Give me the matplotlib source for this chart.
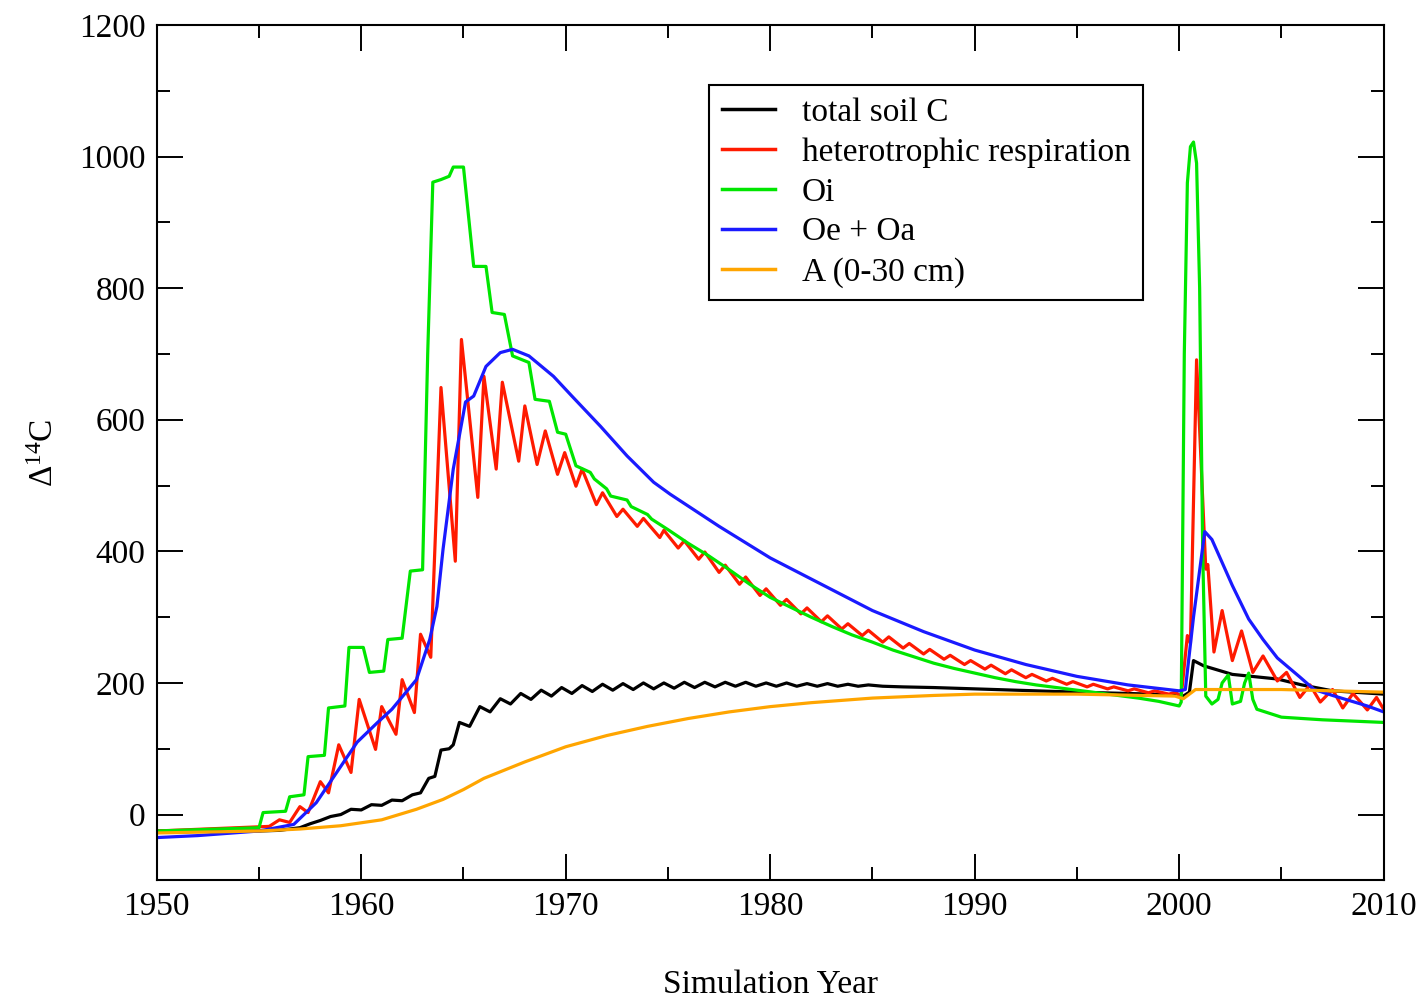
#!/usr/bin/env python3
"""
Delta 14C of soil pools, simulation 1950-2010
"""

import matplotlib
matplotlib.use("Agg")
from matplotlib import pyplot as plt
from matplotlib.ticker import MultipleLocator


# ======== data ========
labels = ["total soil C", "heterotrophic respiration", "Oi", "Oe + Oa", "A (0-30 cm)"]
colors = ["#000000", "#ff1a00", "#00e600", "#1a1aff", "#ffa500"]

# total soil C
black_x = [1950.0, 1955.0, 1956.0, 1957.0, 1957.5, 1958.0, 1958.5, 1959.0, 1959.5, 1960.0,
           1960.5, 1961.0, 1961.5, 1962.0, 1962.5, 1962.9, 1963.3, 1963.6, 1963.9, 1964.3,
           1964.5, 1964.8, 1965.3, 1965.8, 1966.3, 1966.8, 1967.3, 1967.8, 1968.3, 1968.8,
           1969.3, 1969.8, 1970.3, 1970.8, 1971.3, 1971.8, 1972.3, 1972.8, 1973.3, 1973.8,
           1974.3, 1974.8, 1975.3, 1975.8, 1976.3, 1976.8, 1977.3, 1977.8, 1978.3, 1978.8,
           1979.3, 1979.8, 1980.3, 1980.8, 1981.3, 1981.8, 1982.3, 1982.8, 1983.3, 1983.8,
           1984.3, 1984.8, 1985.5, 1986.5, 1988.0, 1990.0, 1992.0, 1995.0, 1997.5, 1999.8,
           2000.2, 2000.5, 2000.7, 2001.2, 2002.6, 2004.8, 2006.0, 2007.5, 2010.0]
black_y = [-25, -25, -24, -20, -14, -9, -3, 0, 8, 7,
           15, 14, 22, 21, 30, 33, 55, 58, 98, 100,
           106, 140, 134, 164, 156, 176, 168, 184, 175, 189,
           180, 193, 184, 196, 187, 198, 189, 199, 190, 200,
           191, 200, 192, 201, 193, 201, 194, 201, 195, 201,
           195, 200, 195, 200, 195, 199, 195, 199, 195, 198,
           195, 197, 195, 194, 193, 191, 189, 186, 184, 182,
           180, 186, 234, 226, 213, 206, 197, 188, 183]

# heterotrophic respiration
red_x = [1950.0, 1955.5, 1956.0, 1956.5, 1957.0, 1957.4, 1958.0, 1958.4, 1958.9, 1959.5,
         1959.9, 1960.7, 1961.0, 1961.7, 1962.0, 1962.6, 1962.9, 1963.4, 1963.9, 1964.6,
         1964.9, 1965.7, 1966.0, 1966.6, 1966.9, 1967.7, 1968.0, 1968.6, 1969.0, 1969.6,
         1969.95, 1970.5, 1970.8, 1971.5, 1971.8, 1972.5, 1972.8, 1973.5, 1973.8, 1974.6,
         1974.8, 1975.5, 1975.8, 1976.5, 1976.8, 1977.5, 1977.8, 1978.5, 1978.8, 1979.5,
         1979.8, 1980.5, 1980.8, 1981.5, 1981.8, 1982.5, 1982.8, 1983.5, 1983.8, 1984.5,
         1984.8, 1985.5, 1985.8, 1986.5, 1986.8, 1987.5, 1987.8, 1988.5, 1988.8, 1989.5,
         1989.8, 1990.5, 1990.8, 1991.5, 1991.8, 1992.5, 1992.8, 1993.5, 1993.8, 1994.5,
         1994.8, 1995.5, 1995.8, 1996.5, 1996.8, 1997.5, 1997.8, 1998.5, 1998.8, 1999.5,
         1999.8, 2000.1, 2000.4, 2000.55, 2000.85, 2001.3, 2001.4, 2001.7, 2002.1, 2002.6,
         2003.05, 2003.6, 2004.1, 2004.8, 2005.25, 2005.9, 2006.4, 2006.9, 2007.5, 2008.0,
         2008.5, 2009.2, 2009.65, 2010.0]
red_y = [-25, -18, -8, -12, 12, 3, 50, 33, 106, 64,
         175, 99, 164, 122, 205, 155, 274, 239, 649, 385,
         722, 482, 666, 525, 657, 537, 621, 532, 583, 517,
         550, 499, 525, 471, 489, 453, 464, 438, 450, 421,
         432, 405, 416, 388, 399, 368, 379, 350, 361, 333,
         343, 318, 327, 305, 314, 293, 302, 282, 290, 272,
         280, 262, 270, 253, 260, 244, 251, 236, 242, 228,
         234, 221, 227, 214, 220, 208, 213, 203, 207, 198,
         202, 194, 198, 191, 194, 188, 191, 185, 188, 183,
         186, 180, 272, 260, 691, 373, 380, 247, 310, 234,
         279, 216, 241, 203, 216, 178, 197, 171, 190, 162,
         184, 159, 178, 160]

# Oi (stair-like)
green_x = [1950.0, 1955.0, 1955.2, 1956.3, 1956.5, 1957.2, 1957.4, 1958.2, 1958.4, 1959.2,
           1959.4, 1960.1, 1960.4, 1961.1, 1961.3, 1962.0, 1962.4, 1963.0, 1963.25, 1963.5,
           1963.9, 1964.3, 1964.5, 1965.0, 1965.5, 1966.1, 1966.4, 1967.0, 1967.4, 1968.2,
           1968.5, 1969.2, 1969.6, 1970.0, 1970.5, 1971.2, 1971.4, 1972.0, 1972.2, 1973.0,
           1973.2, 1974.0, 1974.2, 1975.0, 1976.0, 1977.0, 1978.0, 1979.0, 1980.0, 1981.0,
           1982.0, 1983.0, 1984.0, 1985.0, 1986.0, 1987.0, 1988.0, 1989.0, 1990.0, 1991.0,
           1992.0, 1993.0, 1994.0, 1995.0, 1996.0, 1997.0, 1998.0, 1999.0, 2000.0, 2000.1,
           2000.25, 2000.4, 2000.55, 2000.7, 2000.85, 2001.0, 2001.15, 2001.3, 2001.6, 2001.9,
           2002.1, 2002.4, 2002.6, 2003.0, 2003.2, 2003.4, 2003.6, 2003.8, 2005.0, 2007.0,
           2010.0]
green_y = [-25, -20, 3, 5, 27, 30, 88, 90, 162, 165,
           254, 254, 216, 218, 266, 268, 370, 372, 700, 961,
           965, 970, 984, 984, 833, 833, 763, 760, 697, 687,
           631, 628, 581, 578, 530, 520, 510, 495, 484, 478,
           468, 456, 449, 433, 412, 393, 372, 350, 330, 315,
           300, 286, 273, 262, 250, 240, 230, 222, 215, 208,
           202, 197, 193, 189, 185, 181, 177, 172, 165, 171,
           700, 960, 1015, 1022, 990, 800, 400, 180, 168, 175,
           200, 212, 168, 172, 200, 215, 175, 160, 148, 144,
           140]

# Oe + Oa
blue_x = [1950.0, 1952.0, 1955.0, 1956.7, 1957.8, 1958.8, 1959.8, 1960.8, 1961.5, 1962.7,
          1963.35, 1963.7, 1964.0, 1964.5, 1965.1, 1965.5, 1966.1, 1966.8, 1967.4, 1968.2,
          1969.4, 1970.3, 1971.7, 1973.0, 1974.3, 1975.1, 1977.5, 1980.0, 1982.5, 1985.0,
          1987.5, 1990.0, 1992.5, 1995.0, 1997.5, 2000.0, 2000.3, 2000.7, 2001.25, 2001.6,
          2002.6, 2003.4, 2004.1, 2004.8, 2005.9, 2006.6, 2007.5, 2009.2, 2010.0]
blue_y = [-35, -32, -25, -15, 18, 64, 110, 140, 160, 205,
          266, 316, 403, 525, 627, 636, 681, 702, 707, 697,
          666, 636, 590, 545, 505, 487, 438, 390, 350, 310,
          278, 250, 228, 210, 197, 188, 190, 300, 430, 418,
          348, 297, 266, 238, 209, 190, 181, 165, 156]

# A (0-30 cm)
orange_x = [1950.0, 1955.0, 1957.0, 1959.0, 1961.0, 1962.7, 1964.0, 1965.0, 1966.0, 1968.0,
            1970.0, 1972.0, 1974.0, 1976.0, 1978.0, 1980.0, 1982.0, 1985.0, 1988.0, 1990.0,
            1995.0, 1999.8, 2000.2, 2000.8, 2005.0, 2010.0]
orange_y = [-28, -25, -22, -17, -8, 8, 23, 38, 55, 80,
            103, 120, 134, 146, 156, 164, 170, 177, 181, 183,
            183, 180, 176, 190, 190, 186]

xticks = [1950, 1960, 1970, 1980, 1990, 2000, 2010]
yticks = [0, 200, 400, 600, 800, 1000, 1200]
# ===============================================


def main():
    plt.rcParams['font.family'] = ['Liberation Serif', 'DejaVu Serif']
    plt.rcParams['mathtext.fontset'] = 'custom'
    plt.rcParams['mathtext.rm'] = 'Liberation Serif'
    plt.rcParams['mathtext.it'] = 'Liberation Serif:italic'

    fig = plt.figure(figsize=(14.25, 9.97), dpi=100)
    ax = fig.add_axes([0.110, 0.117, 0.861, 0.858])

    series = [(black_x, black_y), (red_x, red_y), (green_x, green_y),
              (blue_x, blue_y), (orange_x, orange_y)]
    for (xs, ys), lab, col in zip(series, labels, colors):
        ax.plot(xs, ys, color=col, lw=2.3, label=lab)

    ax.set_xlim(1950, 2010)
    ax.set_ylim(-100, 1200)
    ax.set_xticks(xticks)
    ax.set_yticks(yticks)
    ax.xaxis.set_minor_locator(MultipleLocator(5))
    ax.yaxis.set_minor_locator(MultipleLocator(100))
    ax.tick_params(which='both', direction='in', top=True, right=True,
                   width=1.4, labelsize=24, pad=8)
    ax.tick_params(which='major', length=19)
    ax.tick_params(which='minor', length=9.5)
    for sp in ax.spines.values():
        sp.set_linewidth(1.5)

    ax.set_xlabel("Simulation Year", fontsize=24, labelpad=34)
    ax.set_ylabel(r"$\Delta^{14}$C", fontsize=24, labelpad=14)

    leg = ax.legend(loc='upper left', bbox_to_anchor=(0.450, 0.930), fontsize=24,
                    fancybox=False, framealpha=1, edgecolor='black',
                    handlelength=1.6, handletextpad=0.8, labelspacing=0.28,
                    borderpad=0.38, borderaxespad=0)
    leg.get_frame().set_linewidth(1.5)
    for ln in leg.get_lines():
        ln.set_linewidth(2.5)

    fig.savefig("out.png", dpi=100)


if __name__ == '__main__':
    main()
